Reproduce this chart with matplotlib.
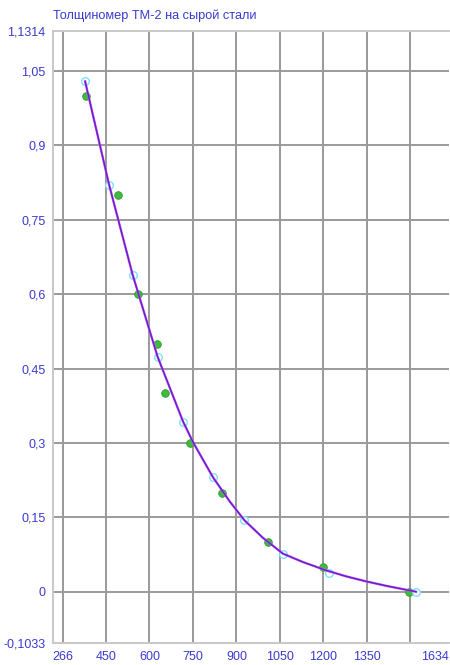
import matplotlib.pyplot as plt
import matplotlib.ticker as mticker

plt.rcParams['font.family'] = ['Liberation Sans', 'DejaVu Sans']

# measured points (green)
meas_x = [380, 490, 560, 625, 655, 740, 850, 1010, 1200, 1495]
meas_y = [1.0, 0.8, 0.6, 0.5, 0.4, 0.3, 0.2, 0.1, 0.05, 0.0]

# calibration curve nodes (cyan circles)
calib_x = [378, 461, 542, 628, 716, 819, 928, 1060, 1221, 1520]
calib_y = [1.029, 0.820, 0.639, 0.474, 0.343, 0.231, 0.144, 0.076, 0.038, 0.0]

# calibration curve (nodes + points in between)
curve_x = [378, 461, 542, 628, 716, 750, 819, 877, 928, 991, 1060, 1129, 1210, 1279, 1347, 1416, 1520]
curve_y = [1.029, 0.820, 0.639, 0.474, 0.343, 0.302, 0.231, 0.182, 0.144, 0.109, 0.077,
           0.060, 0.043, 0.031, 0.021, 0.012, 0.0]

# axis limits / ticks as shown on the chart
x_min, x_max = 266, 1634
y_min, y_max = -0.1033, 1.1314
x_ticks = [266, 450, 600, 750, 900, 1050, 1200, 1350, 1634]
x_grid = [300, 450, 600, 750, 900, 1050, 1200, 1350, 1500]
y_ticks = [-0.1033, 0, 0.15, 0.3, 0.45, 0.6, 0.75, 0.9, 1.05, 1.1314]
y_grid = [0, 0.15, 0.3, 0.45, 0.6, 0.75, 0.9, 1.05]

text_color = '#3a3ad0'
grid_color = '#9a9a9a'
edge_color = '#c8c8c8'

fig = plt.figure(figsize=(4.5, 6.65), dpi=100)
ax = fig.add_axes([0.117, 0.0331, 0.881, 0.921])
ax.set_xlim(x_min, x_max)
ax.set_ylim(y_min, y_max)

for gx in x_grid:
    ax.axvline(gx, color=grid_color, lw=1.4, zorder=1)
for gy in y_grid:
    ax.axhline(gy, color=grid_color, lw=1.4, zorder=1)

ax.scatter(meas_x, meas_y, s=30, color='#3dbb3d', edgecolors='#2f9a2f', linewidths=0.6, zorder=3)
ax.scatter(calib_x, calib_y, s=30, facecolors='white', edgecolors='#7ee0ff', linewidths=1.0, zorder=3)
ax.plot(curve_x, curve_y, color='#e050f0', lw=1.7, zorder=4)
ax.plot(curve_x, curve_y, color='#5626cc', lw=1.0, zorder=5)

ax.xaxis.set_major_locator(mticker.FixedLocator(x_ticks))
ax.yaxis.set_major_locator(mticker.FixedLocator(y_ticks))
ax.set_xticklabels([str(v) for v in x_ticks])
ax.set_yticklabels([('%g' % v).replace('.', ',') for v in y_ticks])
ax.tick_params(length=0, colors=text_color, labelsize=9)
ax.tick_params(axis='x', pad=6)
ax.tick_params(axis='y', pad=5)
xl = ax.get_xticklabels()
xl[0].set_horizontalalignment('left')
xl[-1].set_horizontalalignment('right')

for s in ax.spines.values():
    s.set_color(edge_color)
    s.set_linewidth(1.4)
ax.spines['right'].set_visible(False)

fig.text(0.118, 0.977, 'Толщиномер ТМ-2 на сырой стали', color=text_color,
         fontsize=9.2, ha='left', va='center')

fig.savefig('out.png', dpi=100)
